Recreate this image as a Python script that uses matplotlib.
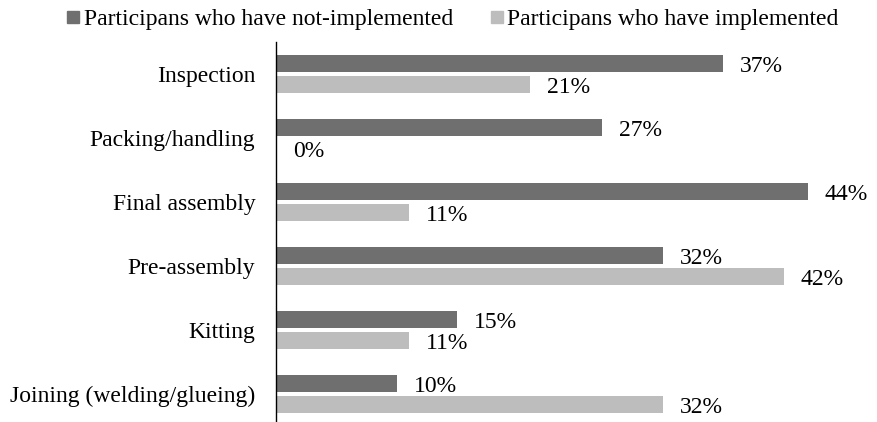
import matplotlib
matplotlib.use("Agg")
import matplotlib.pyplot as plt
from matplotlib.lines import Line2D

categories = ["Inspection", "Packing/handling", "Final assembly", "Pre-assembly", "Kitting", "Joining (welding/glueing)"]
not_implemented = [37, 27, 44, 32, 15, 10]
implemented = [21, 0, 11, 42, 11, 32]
series_names = ["Participans who have not-implemented", "Participans who have implemented"]

dark = "#6f6f6f"
light = "#bdbdbd"

plt.rcParams['font.family'] = ['Liberation Serif', 'DejaVu Serif']
FS = 17

fig = plt.figure(figsize=(8.78, 4.22), dpi=100)
ax = fig.add_axes([0.3145, 0.0, 0.6855, 0.9])

h = 0.27
off = 0.163
ys = list(range(len(categories)))
ax.barh([y - off for y in ys], not_implemented, height=h, color=dark)
ax.barh([y + off for y in ys], implemented, height=h, color=light)

for y, v in zip(ys, not_implemented):
    ax.annotate(f"{v}%", (v, y - off), xytext=(12, -2), textcoords="offset points",
                va="center", ha="left", fontsize=FS)
for y, v in zip(ys, implemented):
    ax.annotate(f"{v}%", (v, y + off), xytext=(12, -2), textcoords="offset points",
                va="center", ha="left", fontsize=FS)

ax.set_xlim(0, 49.8)
ax.set_ylim(5.44, -0.5)
ax.set_yticks(ys)
ax.set_yticklabels(categories, fontsize=FS)
ax.tick_params(axis='y', length=0, pad=15)
ax.set_xticks([])
for s in ["top", "right", "bottom"]:
    ax.spines[s].set_visible(False)
ax.spines["left"].set_color("black")
ax.spines["left"].set_linewidth(1.0)

handles = [Line2D([], [], marker='s', linestyle='none', markersize=9, color=dark),
           Line2D([], [], marker='s', linestyle='none', markersize=9, color=light)]
fig.legend(handles, series_names, loc="upper center", bbox_to_anchor=(0.516, 1.03), ncol=2,
           frameon=False, fontsize=FS, handlelength=0.5, handletextpad=0.2, columnspacing=1.6)

fig.savefig("out.png", dpi=100)
